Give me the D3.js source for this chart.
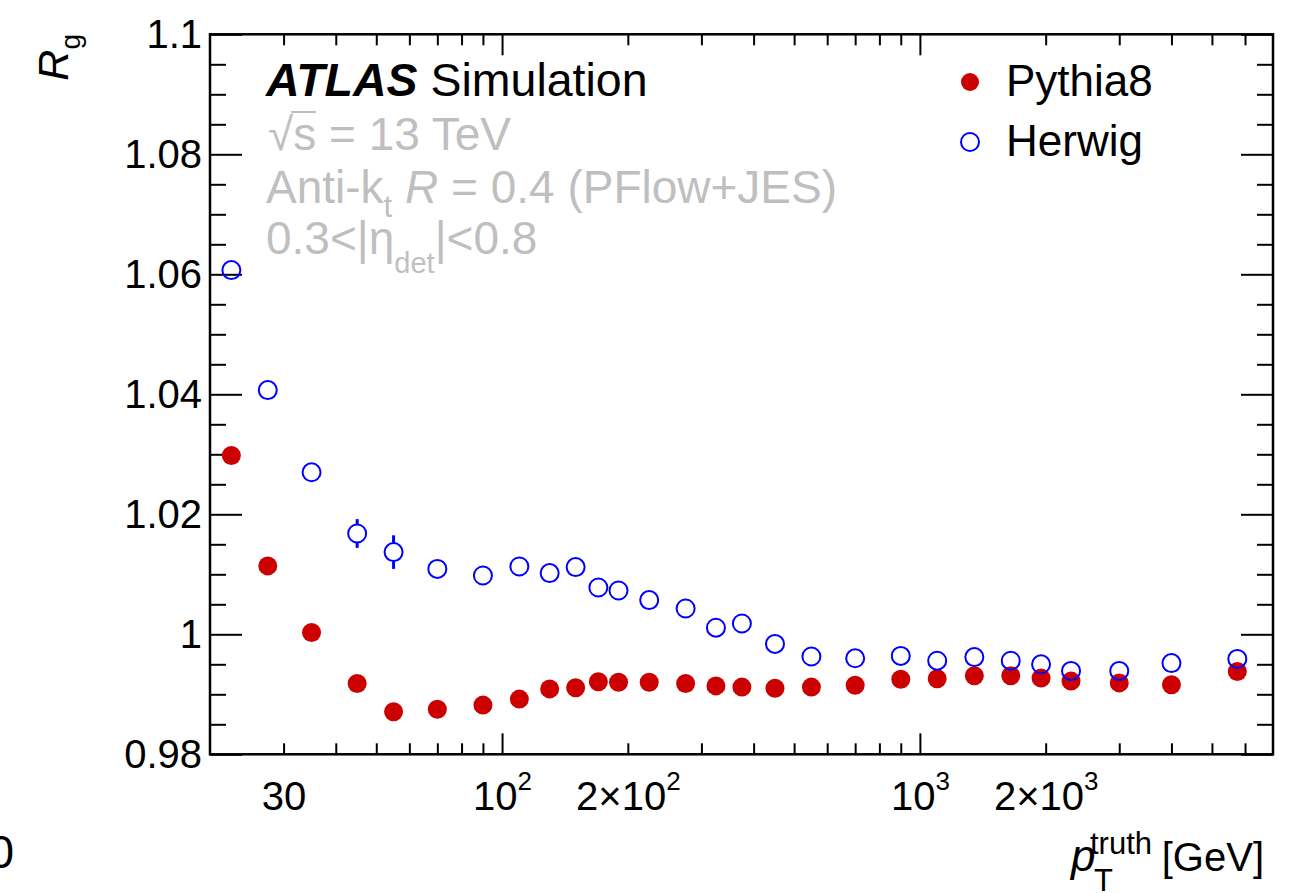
<!DOCTYPE html>
<html>
<head>
<meta charset="utf-8">
<script src="https://cdn.jsdelivr.net/npm/d3@7"></script>
<style>
  body { margin: 0; background: #fff; }
  svg text { font-family: "Liberation Sans", Arial, Helvetica, sans-serif; }
</style>
</head>
<body>
<svg id="chart" width="1307" height="893"></svg>
<script>
// pT^truth bin centres [GeV]
const ptBins = [22.5, 27.5, 35, 45, 55, 70, 90, 110, 130, 150, 170, 190, 225, 275, 325, 375,
  450, 550, 700, 900, 1100, 1350, 1650, 1950, 2300, 3000, 4000, 5750];

// R_g response, Pythia8 (filled red)
const pythia8 = [1.0298, 1.0114, 1.0003, 0.9918, 0.9871, 0.9875, 0.9882, 0.9892, 0.9909, 0.9911,
  0.9921, 0.9920, 0.9920, 0.9918, 0.9914, 0.9912, 0.9910, 0.9912, 0.9915, 0.9925, 0.9926,
  0.9931, 0.9931, 0.9927, 0.9922, 0.9919, 0.9916, 0.9938];
const pythia8Err = [0.0006, 0.0005, 0.0004, 0.0004, 0.0004, 0.0003, 0.0003, 0.0003, 0.0003, 0.0003,
  0.0003, 0.0003, 0.0003, 0.0003, 0.0003, 0.0003, 0.0003, 0.0003, 0.0003, 0.0003, 0.0003,
  0.0003, 0.0003, 0.0003, 0.0003, 0.0003, 0.0003, 0.0004];

// R_g response, Herwig (open blue)
const herwig = [1.0607, 1.0407, 1.0270, 1.0168, 1.0137, 1.0109, 1.0098, 1.0113, 1.0102, 1.0112,
  1.0078, 1.0073, 1.0057, 1.0043, 1.0011, 1.0018, 0.9984, 0.9963, 0.9960, 0.9964, 0.9956,
  0.9962, 0.9956, 0.9950, 0.9939, 0.9939, 0.9952, 0.9959];
const herwigErr = [0.0010, 0.0010, 0.0012, 0.0024, 0.0028, 0.0012, 0.0010, 0.0008, 0.0008, 0.0008,
  0.0006, 0.0006, 0.0006, 0.0006, 0.0006, 0.0006, 0.0006, 0.0006, 0.0006, 0.0006, 0.0006,
  0.0006, 0.0006, 0.0006, 0.0006, 0.0006, 0.0006, 0.0008];

// axis ticks and labels
const yMajorTicks = [0.98, 1.0, 1.02, 1.04, 1.06, 1.08, 1.1];
const xMajorTicks = [100, 1000];
const xLabelTicks = [30, 100, 200, 1000, 2000];
const xLabelText = [["30", ""], ["10", "2"], ["2\u00d710", "2"], ["10", "3"], ["2\u00d710", "3"]];

const legendNames = ["Pythia8", "Herwig"];

const plot = { left: 210, right: 1273, top: 34.3, bottom: 754.3 };
const red = "#cc0000", blue = "#0000ff", grey = "#bfbfbf";
const markerR = 9;

const svg = d3.select("#chart");

const x = d3.scaleLog().domain([20, 7000]).range([plot.left, plot.right]);
const y = d3.scaleLinear().domain([0.98, 1.1]).range([plot.bottom, plot.top]);

// minor ticks: every 0.005 on y, 2..9 x decade on x
const yMinorTicks = d3.range(0.98, 1.1001, 0.005).filter(v => !yMajorTicks.some(m => Math.abs(m - v) < 1e-6));
const xMinorTicks = [];
[10, 100, 1000].forEach(dec => {
  for (let k = 2; k <= 9; k++) {
    const v = k * dec;
    if (v > 20 && v < 7000) xMinorTicks.push(v);
  }
});

function tickAxis(axisFn, scale, values, size, transform) {
  svg.append("g")
    .attr("transform", transform)
    .call(axisFn(scale).tickValues(values).tickSize(size).tickFormat(""))
    .call(g => g.select(".domain").remove())
    .selectAll("line")
    .attr("stroke", "#000")
    .attr("stroke-width", 2);
}

// ticks on all four sides, pointing inward
tickAxis(d3.axisBottom, x, xMajorTicks, -21, `translate(0,${plot.bottom})`);
tickAxis(d3.axisBottom, x, xMinorTicks, -11, `translate(0,${plot.bottom})`);
tickAxis(d3.axisTop, x, xMajorTicks, -21, `translate(0,${plot.top})`);
tickAxis(d3.axisTop, x, xMinorTicks, -11, `translate(0,${plot.top})`);
tickAxis(d3.axisLeft, y, yMajorTicks, -32, `translate(${plot.left},0)`);
tickAxis(d3.axisLeft, y, yMinorTicks, -16, `translate(${plot.left},0)`);
tickAxis(d3.axisRight, y, yMajorTicks, -32, `translate(${plot.right},0)`);
tickAxis(d3.axisRight, y, yMinorTicks, -16, `translate(${plot.right},0)`);

// frame
svg.append("rect")
  .attr("x", plot.left)
  .attr("y", plot.top)
  .attr("width", plot.right - plot.left)
  .attr("height", plot.bottom - plot.top)
  .attr("fill", "none")
  .attr("stroke", "#000")
  .attr("stroke-width", 2.5);

// y labels
const yLab = svg.append("g")
  .attr("transform", `translate(${plot.left},0)`)
  .call(d3.axisLeft(y).tickValues(yMajorTicks).tickSize(0).tickPadding(8)
    .tickFormat(d => String(+d.toFixed(2))));
yLab.select(".domain").remove();
yLab.attr("font-family", null).attr("font-size", null);
yLab.selectAll("text").style("font-size", "40px").attr("fill", "#000");

// x labels with superscripts
const xLab = svg.append("g")
  .attr("transform", `translate(0,${plot.bottom})`)
  .call(d3.axisBottom(x).tickValues(xLabelTicks).tickSize(0).tickPadding(27).tickFormat(""));
xLab.select(".domain").remove();
xLab.attr("font-family", null).attr("font-size", null);
xLab.selectAll("text").each(function(d, i) {
  const t = d3.select(this).style("font-size", "40px").attr("fill", "#000");
  t.append("tspan").text(xLabelText[i][0]);
  if (xLabelText[i][1]) {
    t.append("tspan").attr("dy", -20).style("font-size", "26px").text(xLabelText[i][1]);
  }
});

// error bars, drawn only outside the marker
function errorBars(values, errs, color) {
  const segs = [];
  ptBins.forEach((pt, i) => {
    const cy = y(values[i]);
    const half = y(values[i] - errs[i]) - cy;
    if (half > markerR) {
      segs.push({ x: x(pt), y1: cy - half, y2: cy - markerR });
      segs.push({ x: x(pt), y1: cy + markerR, y2: cy + half });
    }
  });
  svg.append("g").selectAll("line")
    .data(segs)
    .join("line")
    .attr("x1", d => d.x).attr("x2", d => d.x)
    .attr("y1", d => d.y1).attr("y2", d => d.y2)
    .attr("stroke", color)
    .attr("stroke-width", 3);
}

errorBars(pythia8, pythia8Err, red);
errorBars(herwig, herwigErr, blue);

svg.append("g").selectAll("circle")
  .data(ptBins)
  .join("circle")
  .attr("cx", d => x(d))
  .attr("cy", (d, i) => y(pythia8[i]))
  .attr("r", markerR + 0.5)
  .attr("fill", red);

svg.append("g").selectAll("circle")
  .data(ptBins)
  .join("circle")
  .attr("cx", d => x(d))
  .attr("cy", (d, i) => y(herwig[i]))
  .attr("r", markerR)
  .attr("fill", "none")
  .attr("stroke", blue)
  .attr("stroke-width", 2);

// ATLAS label block
const atlas = svg.append("text")
  .attr("x", 266).attr("y", 96)
  .style("font-size", "46.5px");
atlas.append("tspan").attr("font-weight", "bold").attr("font-style", "italic").text("ATLAS");
atlas.append("tspan").text(" Simulation");

const line1 = svg.append("text")
  .attr("x", 268).attr("y", 150)
  .attr("fill", grey)
  .style("font-size", "46px")
  .text("\u221as = 13 TeV");
// bar over the s of the square root
const sExt = line1.node().getExtentOfChar(1);
svg.append("line")
  .attr("x1", sExt.x - 2).attr("x2", sExt.x + sExt.width)
  .attr("y1", 112).attr("y2", 112)
  .attr("stroke", grey)
  .attr("stroke-width", 2);

const line2 = svg.append("text")
  .attr("x", 266).attr("y", 203)
  .attr("fill", grey)
  .style("font-size", "46px");
line2.append("tspan").text("Anti-k");
line2.append("tspan").attr("dy", 14).style("font-size", "31px").text("t");
line2.append("tspan").attr("dy", -14).text(" ");
line2.append("tspan").attr("font-style", "italic").text("R");
line2.append("tspan").text(" = 0.4 (PFlow+JES)");

const line3 = svg.append("text")
  .attr("x", 266).attr("y", 254)
  .attr("fill", grey)
  .style("font-size", "46px");
line3.append("tspan").text("0.3<|\u03b7");
line3.append("tspan").attr("dy", 19).style("font-size", "29px").text("det");
line3.append("tspan").attr("dy", -19).text("|<0.8");

// legend
const legend = svg.append("g");
legendNames.forEach((name, i) => {
  const ly = 82 + i * 60;
  const c = legend.append("circle").attr("cx", 970).attr("cy", ly).attr("r", markerR);
  if (i === 0) c.attr("fill", red);
  else c.attr("fill", "none").attr("stroke", blue).attr("stroke-width", 2);
  legend.append("text")
    .attr("x", 1006).attr("y", ly + 14)
    .style("font-size", "44px")
    .text(name);
});

// axis titles
const yTitle = svg.append("text")
  .attr("transform", `translate(68,34) rotate(-90)`)
  .attr("text-anchor", "end")
  .style("font-size", "43px");
yTitle.append("tspan").attr("font-style", "italic").text("R");
yTitle.append("tspan").attr("dy", 12).style("font-size", "28px").text("g");

svg.append("text")
  .attr("x", 1264).attr("y", 871)
  .attr("text-anchor", "end")
  .style("font-size", "40px")
  .text("[GeV]");
svg.append("text")
  .attr("x", 1071).attr("y", 871)
  .attr("font-style", "italic")
  .style("font-size", "44px")
  .text("p");
svg.append("text")
  .attr("x", 1090).attr("y", 854)
  .style("font-size", "31px")
  .text("truth");
svg.append("text")
  .attr("x", 1094).attr("y", 891)
  .style("font-size", "31px")
  .text("T");

// clipped label at the bottom-left edge
svg.append("text")
  .attr("x", 14).attr("y", 868)
  .attr("text-anchor", "end")
  .style("font-size", "46px")
  .text("0");
</script>
</body>
</html>
